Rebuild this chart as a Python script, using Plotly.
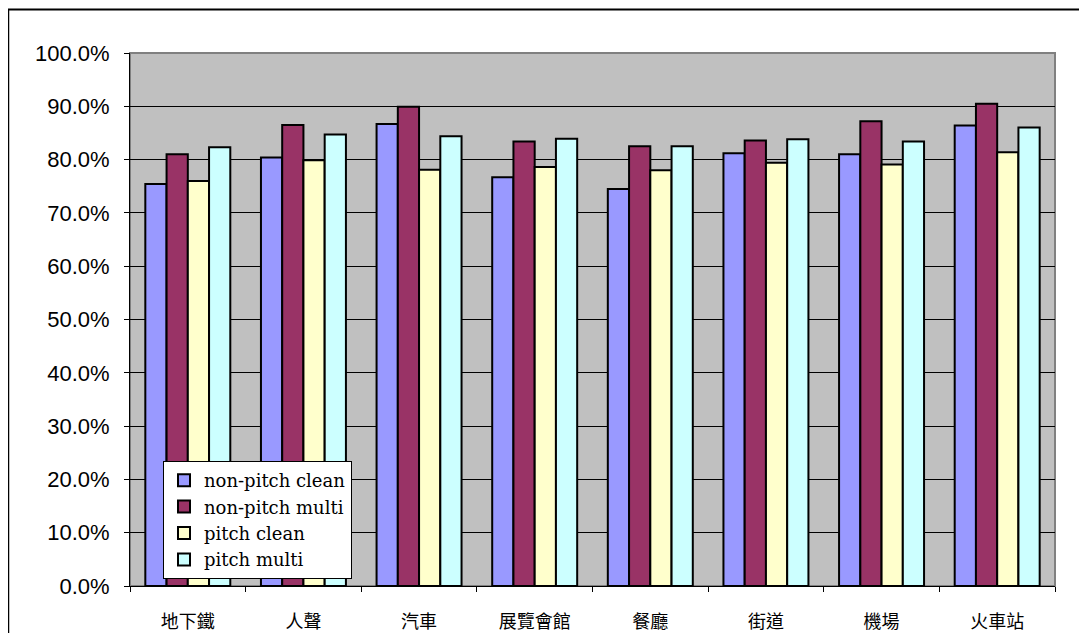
import plotly.graph_objects as go

categories = ["地下鐵", "人聲", "汽車", "展覽會館", "餐廳", "街道", "機場", "火車站"]
series_names = ["non-pitch clean", "non-pitch multi", "pitch clean", "pitch multi"]
non_pitch_clean = [0.754, 0.804, 0.867, 0.767, 0.745, 0.812, 0.810, 0.864]
non_pitch_multi = [0.810, 0.865, 0.899, 0.834, 0.825, 0.836, 0.872, 0.905]
pitch_clean = [0.760, 0.799, 0.781, 0.786, 0.780, 0.794, 0.791, 0.814]
pitch_multi = [0.823, 0.847, 0.844, 0.839, 0.825, 0.838, 0.834, 0.860]
colors = ["#9999FF", "#993366", "#FFFFCC", "#CCFFFF"]
y_ticks = [i / 10 for i in range(11)]

fig = go.Figure()
for name, vals, col in zip(series_names,
                           [non_pitch_clean, non_pitch_multi, pitch_clean, pitch_multi],
                           colors):
    fig.add_trace(go.Bar(
        x=categories, y=vals, name=name,
        marker=dict(color=col, line=dict(color="black", width=2)),
    ))

# page body has an 8px margin, so the figure is placed at (8, 8)
OFF = 8
W, H = 1087 - OFF, 633 - OFF
L, T = 130 - OFF, 53 - OFF
pw, ph = 925, 533
R = W - L - pw
B = H - T - ph

def px_x(x):
    return (x - OFF - L) / pw

def px_y(y):
    return (OFF + T + ph - y) / ph

fig.update_layout(
    width=W, height=H,
    margin=dict(l=L, r=R, t=T, b=B, pad=0, autoexpand=False),
    paper_bgcolor="white",
    plot_bgcolor="#C0C0C0",
    barmode="group",
    bargap=0.265,
    bargroupgap=0,
    showlegend=True,
    legend=dict(
        x=px_x(163), y=px_y(461), xanchor="left", yanchor="top",
        bgcolor="white", bordercolor="black", borderwidth=1,
        font=dict(family="DejaVu Serif", size=18, color="black"),
        tracegroupgap=0,
    ),
    xaxis=dict(
        automargin=False,
        showline=True, linecolor="black", linewidth=1,
        ticks="outside", ticklen=5, tickcolor="black", tickson="boundaries",
        tickfont=dict(family="Noto Sans CJK TC", size=18, color="black"),
        ticklabelstandoff=19,
        showgrid=False, zeroline=False,
    ),
    yaxis=dict(
        automargin=False,
        range=[0, 1], tickvals=y_ticks, tickformat=".1%",
        showline=True, linecolor="black", linewidth=1,
        ticks="outside", ticklen=5, tickcolor="black",
        tickfont=dict(family="Liberation Sans, Arial", size=22, color="black"),
        ticklabelstandoff=10,
        showgrid=True, gridcolor="black", gridwidth=1,
        zeroline=False,
    ),
    shapes=[
        dict(type="rect", xref="paper", yref="paper",
             x0=0, x1=1, y0=0, y1=1,
             line=dict(color="#808080", width=2), layer="below"),
        dict(type="line", xref="paper", yref="paper",
             x0=px_x(8), x1=px_x(1087), y0=px_y(9.5), y1=px_y(9.5),
             line=dict(color="black", width=2)),
        dict(type="line", xref="paper", yref="paper",
             x0=px_x(8.5), x1=px_x(8.5), y0=px_y(9.5), y1=px_y(633),
             line=dict(color="black", width=1.5)),
    ],
)

fig.write_html("out.html")
